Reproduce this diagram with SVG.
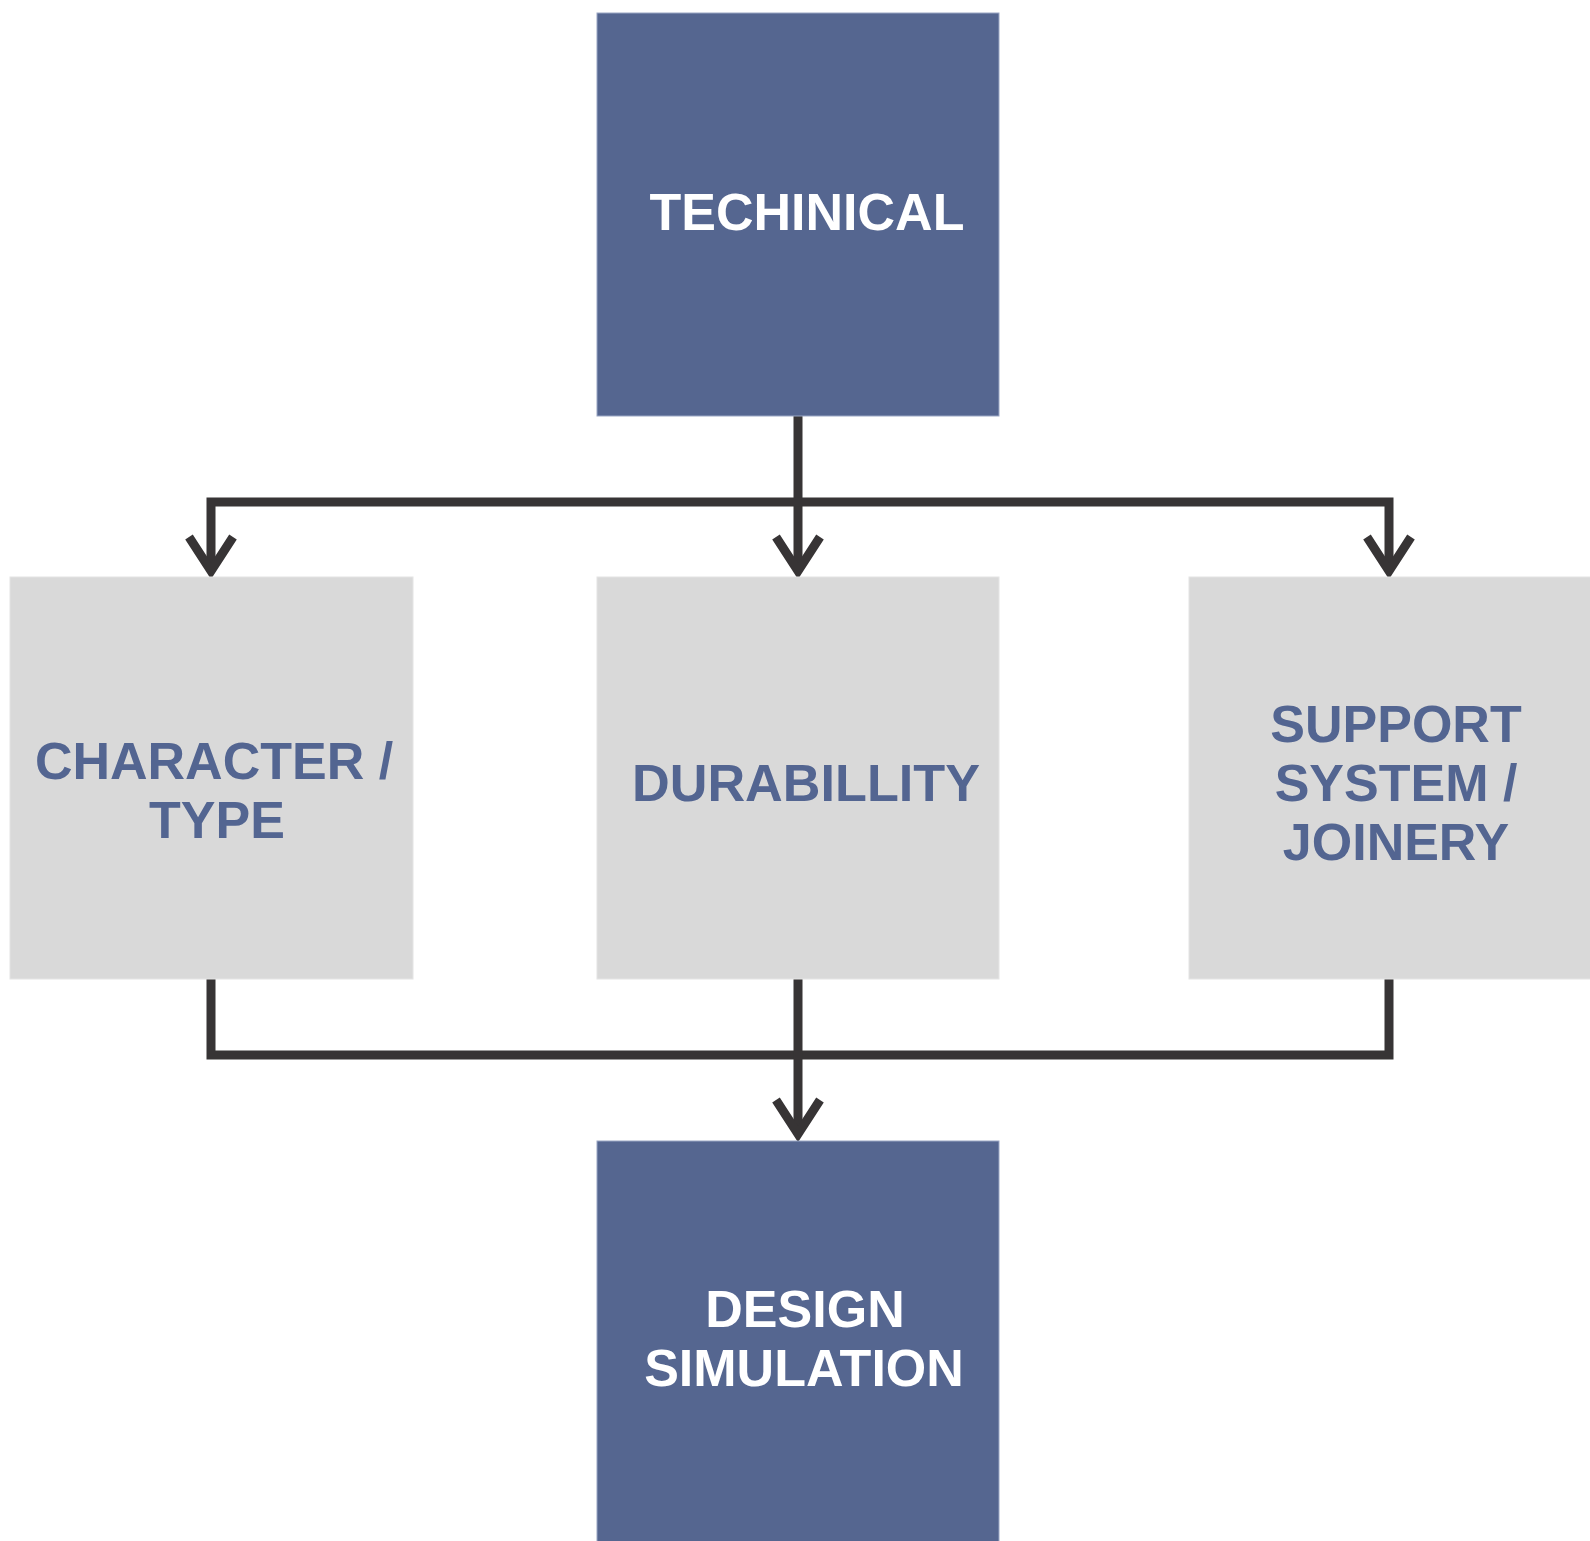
<svg xmlns="http://www.w3.org/2000/svg" width="1590" height="1541" viewBox="0 0 1590 1541">
  <style>
    .dark { fill: #556690; stroke: #9aa6c4; stroke-width: 1; }
    .light { fill: #d9d9d9; stroke: #e4e4e4; stroke-width: 1; }
    .wt { fill: #ffffff; font-family: "Liberation Sans", Arial, sans-serif; font-weight: bold; font-size: 52px; text-anchor: middle; }
    .bt { fill: #536591; font-family: "Liberation Sans", Arial, sans-serif; font-weight: bold; font-size: 52px; text-anchor: middle; }
    .conn { fill: none; stroke: #373435; stroke-width: 9; stroke-linejoin: miter; stroke-linecap: butt; }
  </style>
  <defs>
    <marker id="arrow" markerUnits="userSpaceOnUse" markerWidth="80" markerHeight="80" refX="0" refY="0" orient="auto" overflow="visible">
      <path d="M -34,-22 L 0,0 L -34,22" fill="none" stroke="#373435" stroke-width="9" stroke-linejoin="miter" stroke-miterlimit="10"/>
    </marker>
  </defs>
  <rect width="1590" height="1541" fill="#ffffff"/>

  <g id="connectors">
    <path class="conn" d="M798,416 V571" marker-end="url(#arrow)"/>
    <path class="conn" d="M798,502 H211 V571" marker-end="url(#arrow)"/>
    <path class="conn" d="M798,502 H1389 V571" marker-end="url(#arrow)"/>
    <path class="conn" d="M211,979 V1055 H798"/>
    <path class="conn" d="M1389,979 V1055 H798"/>
    <path class="conn" d="M798,979 V1134" marker-end="url(#arrow)"/>
  </g>

  <g id="node-technical">
    <rect class="dark" x="597" y="13" width="402" height="403"/>
    <text class="wt" x="807" y="230">TECHINICAL</text>
  </g>

  <g id="node-character">
    <rect class="light" x="10" y="577" width="403" height="402"/>
    <text class="bt" x="214" y="779">CHARACTER /</text>
    <text class="bt" x="217" y="838">TYPE</text>
  </g>

  <g id="node-durability">
    <rect class="light" x="597" y="577" width="402" height="402"/>
    <text class="bt" x="806" y="801" textLength="348" lengthAdjust="spacingAndGlyphs">DURABILLITY</text>
  </g>

  <g id="node-support">
    <rect class="light" x="1189" y="577" width="402" height="402"/>
    <text class="bt" x="1396" y="742">SUPPORT</text>
    <text class="bt" x="1396" y="801">SYSTEM /</text>
    <text class="bt" x="1396" y="860">JOINERY</text>
  </g>

  <g id="node-design">
    <rect class="dark" x="597" y="1141" width="402" height="410"/>
    <text class="wt" x="805" y="1327">DESIGN</text>
    <text class="wt" x="804" y="1386">SIMULATION</text>
  </g>
</svg>
